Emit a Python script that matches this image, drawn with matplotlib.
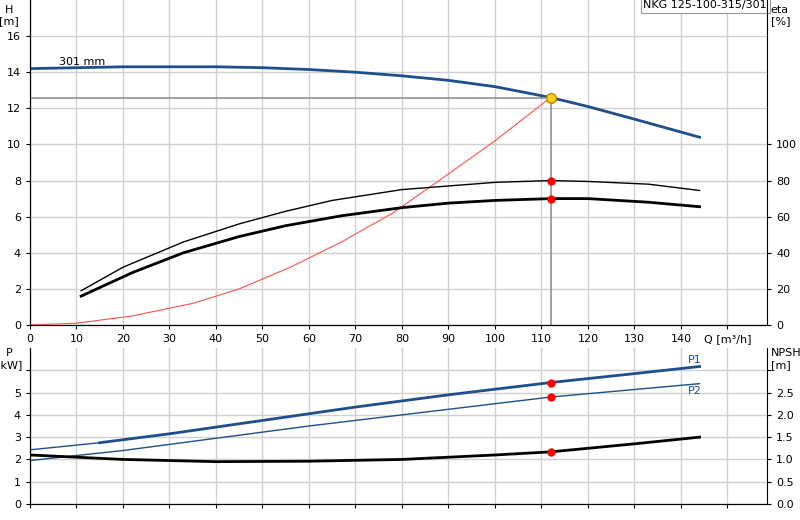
import matplotlib.pyplot as plt

q_h = [0, 10, 20, 30, 40, 50, 60, 70, 80, 90, 100, 112, 120, 130, 144]
h = [14.2, 14.25, 14.3, 14.3, 14.3, 14.25, 14.15, 14.0, 13.8, 13.55, 13.2, 12.6, 12.1, 11.4, 10.4]
q_eta1 = [11, 20, 33, 45, 55, 65, 80, 90, 100, 112, 120, 133, 144]
eta1 = [19, 32, 46, 56, 63, 69, 75, 77, 79, 80, 79.5, 78, 74.5]
q_eta2 = [11, 22, 33, 45, 55, 67, 80, 90, 100, 112, 120, 133, 144]
eta2 = [16, 29, 40, 49, 55, 60.5, 65, 67.5, 69, 70, 70, 68, 65.5]
q_sys = [0, 10, 22, 35, 45, 56, 67, 78, 88, 100, 112]
h_sys = [0, 0.1, 0.5, 1.2, 2.0, 3.2, 4.6, 6.2, 8.0, 10.2, 12.6]
q_p1 = [0, 15, 30, 50, 70, 90, 112, 130, 144]
p1 = [2.43, 2.75, 3.15, 3.75, 4.35, 4.9, 5.45, 5.85, 6.17]
q_p2 = [0, 20, 40, 60, 80, 100, 112, 144]
p2 = [1.95, 2.4, 2.95, 3.5, 4.0, 4.5, 4.8, 5.4]
q_npsh = [0, 20, 40, 60, 80, 100, 112, 130, 144]
npsh = [1.1, 1.0, 0.95, 0.96, 1.0, 1.1, 1.17, 1.35, 1.5]
q_op, h_op, eta_op1, eta_op2 = 112, 12.6, 80, 70

blue = '#1f4e8c'
fig = plt.figure(figsize=(8, 5.2), dpi=100)
ax = fig.add_axes([30/800, 1-325/520, 737/800, 325/520])
bx = fig.add_axes([30/800, 1-504/520, 737/800, 156/520])
for a in (ax, bx):
    a.set_xlim(0, 158.5)
    a.set_xticks(range(0, 160, 10))
    a.grid(True, color='#d0d0d0', lw=1)
    a.tick_params(labelsize=8, length=3)
    for s in ('top', 'right'):
        a.spines[s].set_visible(False)
ax.set_ylim(0, 18)
ax.set_yticks(range(0, 17, 2))
ax.set_xticklabels([str(v) for v in range(0, 150, 10)] + ['Q [m³/h]'])
ax.plot(q_h, h, color=blue, lw=2)
ax.plot(q_sys, h_sys, color='#ff5050', lw=0.8)
ax.plot([0, q_op], [h_op, h_op], color='#909090', lw=1.2)
ax.plot([q_op, q_op], [0, h_op], color='#909090', lw=1.2)
ax.text(0.04, 14.4/18, '301 mm', transform=ax.transAxes, fontsize=8)
ax.text(1, 1, 'NKG 125-100-315/301', transform=ax.transAxes, ha='right', va='top', fontsize=8,
        bbox=dict(fc='white', ec='#999999', lw=0.8, pad=2))
ax.text(-0.028, 0.985, 'H\n[m]', transform=ax.transAxes, ha='center', va='top', fontsize=8)
ax2 = ax.twinx()
ax2.set_position(ax.get_position())
ax2.set_ylim(0, 180)
ax2.set_yticks(range(0, 101, 20))
ax2.tick_params(labelsize=8, length=3)
ax2.spines['top'].set_visible(False)
ax2.plot(q_eta1, eta1, color='black', lw=1)
ax2.plot(q_eta2, eta2, color='black', lw=2)
ax2.plot([q_op, q_op], [eta_op1, eta_op2], 'o', color='red', ms=5)
ax2.plot([q_op], [h_op*10], 'o', color='#ffd21f', mec='#c08000', ms=7)
ax2.text(1.005, 0.985, 'eta\n[%]', transform=ax.transAxes, ha='left', va='top', fontsize=8)

bx.set_ylim(0, 7)
bx.set_yticks(range(0, 7))
bx.set_yticklabels(['0', '1', '2', '3', '4', '5', ''])
bx.set_xticklabels([])
bx.plot(q_p1[:2], p1[:2], color=blue, lw=1)
bx.plot(q_p1[1:], p1[1:], color=blue, lw=2)
bx.plot(q_p2, p2, color=blue, lw=1)
bx.text(143, 6.25, 'P1', color=blue, fontsize=8, ha='center', va='bottom')
bx.text(143, 5.3, 'P2', color=blue, fontsize=8, ha='center', va='top')
bx.text(-0.028, 1.0, 'P\n[kW]', transform=bx.transAxes, ha='center', va='top', fontsize=8)
bx2 = bx.twinx()
bx2.set_position(bx.get_position())
bx2.set_ylim(0, 3.5)
bx2.set_yticks([0, 0.5, 1, 1.5, 2, 2.5, 3])
bx2.set_yticklabels(['0.0', '0.5', '1.0', '1.5', '2.0', '2.5', ''])
bx2.tick_params(labelsize=8, length=3)
bx2.spines['top'].set_visible(False)
bx2.plot(q_npsh, npsh, color='black', lw=2)
bx2.plot([q_op], [npsh[6]], 'o', color='red', ms=5)
bx.plot([q_op, q_op], [p1[6], p2[6]], 'o', color='red', ms=5)
bx2.text(1.005, 1.0, 'NPSH\n[m]', transform=bx.transAxes, ha='left', va='top', fontsize=8)
fig.savefig('out.png')
